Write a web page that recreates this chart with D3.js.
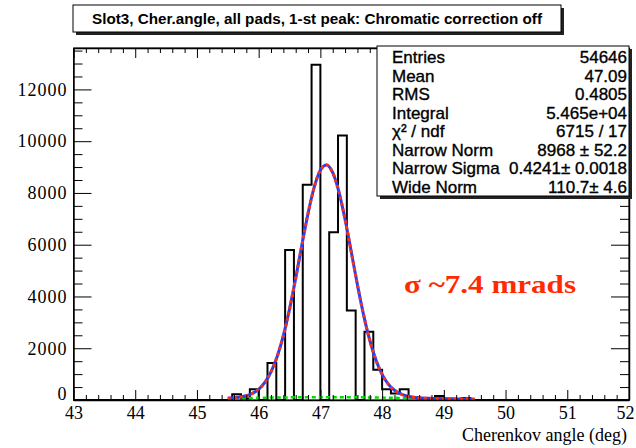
<!DOCTYPE html>
<html>
<head>
<meta charset="utf-8">
<script src="https://cdn.jsdelivr.net/npm/d3@7"></script>
<style>
  html, body { margin: 0; padding: 0; background: #fff; }
  svg { display: block; }
</style>
</head>
<body>
<svg id="chart" width="636" height="448"></svg>
<script>
// ---------------- data ----------------
const titleText = "Slot3, Cher.angle, all pads, 1-st peak: Chromatic correction off";
const xAxisTitle = "Cherenkov angle (deg)";
const annotation = "σ ~7.4 mrads";

const histRange = [43, 52];
const nBins = 63;
// bin contents (63 bins of 1/7 deg from 43 to 52)
const counts = [
  0, 0, 0, 0, 0, 0, 0, 0, 0, 0,
  0, 0, 0, 0, 0, 0, 0, 0, 220, 60,
  414, 0, 1430, 0, 5800, 0, 8320, 12950, 0, 6480,
  10220, 3460, 0, 2640, 1170, 415, 250, 420, 100, 60,
  30, 150, 20, 10, 80, 0, 0, 0, 0, 0,
  0, 0, 0, 0, 0, 0, 0, 0, 0, 0,
  0, 0, 0
];

// fitted curves
const fitX = [45.5,45.6,45.7,45.8,45.9,46.0,46.1,46.2,46.3,46.4,46.5,46.6,46.7,46.8,46.9,
  47.0,47.1,47.2,47.3,47.4,47.5,47.6,47.7,47.8,47.9,48.0,48.1,48.2,48.3,48.4,48.5,
  48.6,48.7,48.8,48.9,49.0,49.1,49.2,49.3,49.4,49.5];
const fitTotal = [71,87,114,164,256,415,677,1085,1678,2487,3510,4706,5983,7207,8222,
  8878,9076,8781,8043,6973,5727,4455,3289,2308,1543,990,614,376,233,152,107,
  83,69,61,54,49,45,41,37,34,30];
const fitWide = [63,68,72,76,81,85,89,93,96,100,102,105,107,109,110,
  110,111,110,110,108,107,104,102,99,96,92,88,84,80,76,71,
  67,62,58,53,49,45,41,37,34,30];

const xTickValues = [43,44,45,46,47,48,49,50,51,52];
const yTickValues = [0,2000,4000,6000,8000,10000,12000];
const yMax = 13600;

const statLabels = ["Entries","Mean","RMS","Integral","χ² / ndf","Narrow Norm","Narrow Sigma","Wide Norm"];
const statValues = ["54646","47.09","0.4805","5.465e+04","6715 / 17","8968 ± 52.2","0.4241± 0.0018","110.7± 4.6"];

// ---------------- layout ----------------
const svg = d3.select("#chart");
const L = 73.5, R = 629, T = 48, B = 400;

const x = d3.scaleLinear().domain(histRange).range([L, R]);
const y = d3.scaleLinear().domain([0, yMax]).range([B, T]);

const sansFont = "'Liberation Sans', Arial, Helvetica, sans-serif";
const serifFont = "'Liberation Serif', 'Times New Roman', serif";

// frame
svg.append("rect").attr("x", L).attr("y", T).attr("width", R - L).attr("height", B - T)
  .attr("fill", "none").attr("stroke", "#000").attr("stroke-width", 1);

// histogram outline
const binW = (histRange[1] - histRange[0]) / nBins;
const pts = [[histRange[0], 0]];
counts.forEach((c, i) => {
  const x0 = histRange[0] + i * binW, x1 = x0 + binW;
  pts.push([x0, c]); pts.push([x1, c]);
});
pts.push([histRange[1], 0]);
svg.append("path")
  .attr("d", d3.line().x(d => x(d[0])).y(d => y(d[1]))(pts))
  .attr("fill", "none").attr("stroke", "#000").attr("stroke-width", 2)
  .attr("stroke-linejoin", "miter");

// fits
const curve = d3.curveMonotoneX;
svg.append("path")
  .attr("d", d3.line().curve(curve).x((d, i) => x(fitX[i])).y(d => y(d))(fitWide))
  .attr("fill", "none").attr("stroke", "#00dd00").attr("stroke-width", 2.5)
  .attr("stroke-dasharray", "4,3");
svg.append("path")
  .attr("d", d3.line().curve(curve).x((d, i) => x(fitX[i])).y(d => y(d))(fitTotal))
  .attr("fill", "none").attr("stroke", "#2040ff").attr("stroke-width", 3);
svg.append("path")
  .attr("d", d3.line().curve(curve).x((d, i) => x(fitX[i])).y(d => y(d))(fitTotal))
  .attr("fill", "none").attr("stroke", "#ff3010").attr("stroke-width", 3)
  .attr("stroke-dasharray", "3,3");

// axes
const xMinor = d3.range(43, 52.0001, 0.2).map(v => +v.toFixed(2)).filter(v => !xTickValues.includes(v));
const yMinor = d3.range(0, yMax, 500).filter(v => !yTickValues.includes(v));

function styleAxis(g) {
  g.selectAll(".domain").attr("stroke", "#000").attr("stroke-width", 1.5);
  g.selectAll(".tick line").attr("stroke", "#000").attr("stroke-width", 1);
}

// bottom
const gB = svg.append("g").attr("transform", `translate(0,${B})`)
  .call(d3.axisBottom(x).tickValues(xTickValues).tickFormat(d3.format("d"))
    .tickSizeInner(-10).tickSizeOuter(0).tickPadding(6));
gB.selectAll("text").attr("font-family", serifFont).attr("font-size", 18).attr("fill", "#000");
gB.selectAll(".tick").filter(d => d === 52).select("text").attr("dx", -4);
styleAxis(gB);
const gBm = svg.append("g").attr("transform", `translate(0,${B})`)
  .call(d3.axisBottom(x).tickValues(xMinor).tickSizeInner(-5).tickSizeOuter(0).tickFormat(""));
styleAxis(gBm); gBm.select(".domain").remove();

// top
const gT = svg.append("g").attr("transform", `translate(0,${T})`)
  .call(d3.axisTop(x).tickValues(xTickValues).tickSizeInner(-10).tickSizeOuter(0).tickFormat(""));
styleAxis(gT);
const gTm = svg.append("g").attr("transform", `translate(0,${T})`)
  .call(d3.axisTop(x).tickValues(xMinor).tickSizeInner(-5).tickSizeOuter(0).tickFormat(""));
styleAxis(gTm); gTm.select(".domain").remove();

// left
const gL = svg.append("g").attr("transform", `translate(${L},0)`)
  .call(d3.axisLeft(y).tickValues(yTickValues).tickFormat(d3.format("d"))
    .tickSizeInner(-18).tickSizeOuter(0).tickPadding(6));
gL.selectAll("text").attr("font-family", serifFont).attr("font-size", 18)
  .attr("letter-spacing", "1px").attr("fill", "#000");
gL.selectAll(".tick").filter(d => d === 0).select("text").attr("dy", "-0.05em");
styleAxis(gL);
const gLm = svg.append("g").attr("transform", `translate(${L},0)`)
  .call(d3.axisLeft(y).tickValues(yMinor).tickSizeInner(-9).tickSizeOuter(0).tickFormat(""));
styleAxis(gLm); gLm.select(".domain").remove();

// right
const gR = svg.append("g").attr("transform", `translate(${R},0)`)
  .call(d3.axisLeft(y).tickValues(yTickValues).tickSizeInner(18).tickSizeOuter(0).tickFormat(""));
styleAxis(gR);
const gRm = svg.append("g").attr("transform", `translate(${R},0)`)
  .call(d3.axisLeft(y).tickValues(yMinor).tickSizeInner(9).tickSizeOuter(0).tickFormat(""));
styleAxis(gRm); gRm.select(".domain").remove();

// x axis title
svg.append("text").attr("x", 627).attr("y", 441).attr("text-anchor", "end")
  .attr("font-family", serifFont).attr("font-size", 18).attr("fill", "#000")
  .text(xAxisTitle);

// annotation
svg.append("text").attr("x", 404).attr("y", 293)
  .attr("font-family", serifFont).attr("font-size", 26).attr("font-weight", "bold")
  .attr("fill", "#ff2a00").attr("textLength", 172).attr("lengthAdjust", "spacingAndGlyphs")
  .text(annotation);

// title box
const tb = {x: 73, y: 5, w: 488, h: 27};
svg.append("rect").attr("x", tb.x + 3).attr("y", tb.y + 3).attr("width", tb.w).attr("height", tb.h).attr("fill", "#222");
svg.append("rect").attr("x", tb.x).attr("y", tb.y).attr("width", tb.w).attr("height", tb.h)
  .attr("fill", "#fff").attr("stroke", "#000").attr("stroke-width", 1);
svg.append("text").attr("x", tb.x + tb.w / 2).attr("y", 24).attr("text-anchor", "middle")
  .attr("font-family", sansFont).attr("font-size", 14).attr("font-weight", "bold")
  .attr("textLength", 450).attr("lengthAdjust", "spacingAndGlyphs")
  .text(titleText);

// stats box
const sb = {x: 377, y: 46, w: 252, h: 150};
svg.append("rect").attr("x", sb.x + 3).attr("y", sb.y + 3).attr("width", sb.w).attr("height", sb.h).attr("fill", "#222");
svg.append("rect").attr("x", sb.x).attr("y", sb.y).attr("width", sb.w).attr("height", sb.h)
  .attr("fill", "#fff").attr("stroke", "#000").attr("stroke-width", 1);
const rows = svg.append("g");
statLabels.forEach((lab, i) => {
  const by = 63 + i * 18.5;
  rows.append("text").attr("x", 392).attr("y", by)
    .attr("font-family", sansFont).attr("font-size", 17).attr("fill", "#000")
    .attr("stroke", "#000").attr("stroke-width", 0.35).text(lab);
  rows.append("text").attr("x", 627).attr("y", by).attr("text-anchor", "end")
    .attr("font-family", sansFont).attr("font-size", 17).attr("fill", "#000")
    .attr("stroke", "#000").attr("stroke-width", 0.35).text(statValues[i]);
});
</script>
</body>
</html>
